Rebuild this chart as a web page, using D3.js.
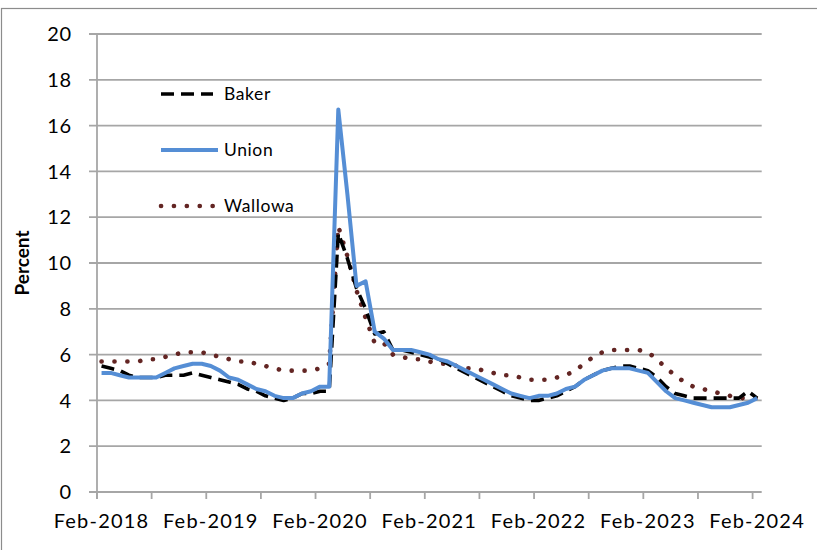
<!DOCTYPE html>
<html><head><meta charset="utf-8">
<script src="https://cdn.jsdelivr.net/npm/d3@7"></script>
<style>body{margin:0;background:#fff}svg{display:block}</style>
</head><body>
<svg id="c" width="817" height="550"></svg>
<script>
const xLabels = ["Feb-2018","Feb-2019","Feb-2020","Feb-2021","Feb-2022","Feb-2023","Feb-2024"];
const yTicks = [0,2,4,6,8,10,12,14,16,18,20];
const baker = [5.5,5.4,5.3,5.1,5.0,5.0,5.0,5.1,5.1,5.1,5.2,5.1,5.0,4.9,4.8,4.7,4.5,4.4,4.2,4.1,4.0,4.1,4.3,4.3,4.4,4.4,
  11.3,10.2,8.9,8.0,6.9,7.0,6.2,6.2,6.1,6.0,5.9,5.8,5.6,5.4,5.2,5.0,4.8,4.6,4.4,4.2,4.1,4.0,4.0,4.1,4.2,4.4,4.6,4.9,
  5.1,5.3,5.4,5.5,5.5,5.4,5.3,5.0,4.6,4.3,4.2,4.1,4.1,4.1,4.1,4.1,4.1,4.4,4.1];
const union = [5.2,5.2,5.1,5.0,5.0,5.0,5.0,5.2,5.4,5.5,5.6,5.6,5.5,5.3,5.0,4.9,4.7,4.5,4.4,4.2,4.1,4.1,4.3,4.4,4.6,4.6,
  16.7,13.0,9.0,9.2,7.0,6.7,6.2,6.2,6.2,6.1,6.0,5.8,5.7,5.5,5.3,5.1,4.9,4.7,4.5,4.3,4.2,4.1,4.2,4.2,4.3,4.5,4.6,4.9,
  5.1,5.3,5.4,5.4,5.4,5.3,5.2,4.8,4.4,4.1,4.0,3.9,3.8,3.7,3.7,3.7,3.8,3.9,4.1];
const wallowa = [5.7,5.7,5.7,5.7,5.7,5.8,5.8,5.9,6.0,6.1,6.1,6.1,6.0,5.9,5.8,5.7,5.7,5.6,5.5,5.4,5.3,5.3,5.3,5.3,5.4,5.6,
  11.6,10.3,8.8,7.6,6.5,6.5,6.0,5.9,5.8,5.8,5.7,5.6,5.6,5.5,5.4,5.4,5.3,5.2,5.1,5.1,5.0,4.9,4.9,4.9,5.0,5.1,5.3,5.6,
  5.9,6.1,6.2,6.2,6.2,6.2,6.1,5.8,5.4,5.1,4.8,4.6,4.5,4.4,4.3,4.2,4.1,4.1,4.1];
const seriesNames = ["Baker","Union","Wallowa"];

const svg = d3.select("#c");
const font = "Lato, 'Noto Sans', sans-serif";
const L = 97, R = 761.7, T = 34, B = 492;
const n = union.length;
const x = d3.scaleLinear().domain([-0.5, n - 0.5]).range([L, R]);
const y = d3.scaleLinear().domain([0, 20]).range([B, T]);

// outer border
svg.append("rect").attr("x",1.5).attr("y",8.5).attr("width",840).attr("height",560)
  .attr("fill","none").attr("stroke","#8c8c8c").attr("stroke-width",1.2);

const grid = "#a6a6a6";
svg.append("g").selectAll("line").data(yTicks).join("line")
  .attr("x1", L - 8).attr("x2", R).attr("y1", d => y(d)).attr("y2", d => y(d))
  .attr("stroke", grid).attr("stroke-width", 1.8);
svg.append("line").attr("x1",L).attr("x2",L).attr("y1",T).attr("y2",B+7)
  .attr("stroke",grid).attr("stroke-width",1.8);
const xt = d3.range(0, n, 6);
svg.append("g").selectAll("line").data(xt).join("line")
  .attr("x1", d => x(d - 0.5)).attr("x2", d => x(d - 0.5)).attr("y1", B).attr("y2", B + 7)
  .attr("stroke", grid).attr("stroke-width", 1.8);

svg.append("g").selectAll("text").data(yTicks).join("text")
  .attr("x", 72).attr("y", d => y(d)).attr("dy","0.36em").attr("text-anchor","end")
  .attr("font-family", font).attr("font-size", 20).attr("letter-spacing","0.8px")
  .attr("fill","#000").text(d => d);
svg.append("g").selectAll("text").data(xLabels).join("text")
  .attr("x", (d,i) => x(i*12)).attr("y", 528).attr("text-anchor","middle")
  .attr("font-family", font).attr("font-size", 20).attr("letter-spacing","1.2px")
  .attr("fill","#000").text(d => d);
svg.append("text").attr("transform","translate(29,263) rotate(-90)")
  .attr("text-anchor","middle").attr("font-family",font).attr("font-weight","bold")
  .attr("font-size",19).attr("fill","#000").text("Percent");

const line = d3.line().x((d,i) => x(i)).y(d => y(d)).curve(d3.curveLinear);
const styles = {
  Baker: {stroke:"#000", w:3.6, dash:"13,7", cap:"butt"},
  Union: {stroke:"#558ed5", w:4, dash:null, cap:"butt"},
  Wallowa: {stroke:"#632523", w:4.6, dash:"0.1,12.8", cap:"round"}
};
const dataBy = {Baker: baker, Union: union, Wallowa: wallowa};
["Wallowa","Baker","Union"].forEach(k => {
  const s = styles[k];
  svg.append("path").attr("d", line(dataBy[k])).attr("fill","none")
    .attr("stroke", s.stroke).attr("stroke-width", s.w)
    .attr("stroke-dasharray", s.dash).attr("stroke-linecap", s.cap)
    .attr("stroke-linejoin","round");
});

const ly = [94, 150, 206];
seriesNames.forEach((k,i) => {
  const s = styles[k];
  svg.append("line").attr("x1",161).attr("x2", k==="Baker"?213:218).attr("y1",ly[i]).attr("y2",ly[i])
    .attr("stroke", s.stroke).attr("stroke-width", s.w)
    .attr("stroke-dasharray", s.dash).attr("stroke-linecap", s.cap);
  svg.append("text").attr("x",224).attr("y",ly[i]).attr("dy","0.36em")
    .attr("font-family",font).attr("font-size",17.5).attr("letter-spacing","0.6px")
    .attr("fill","#000").text(k);
});
</script>
</body></html>
